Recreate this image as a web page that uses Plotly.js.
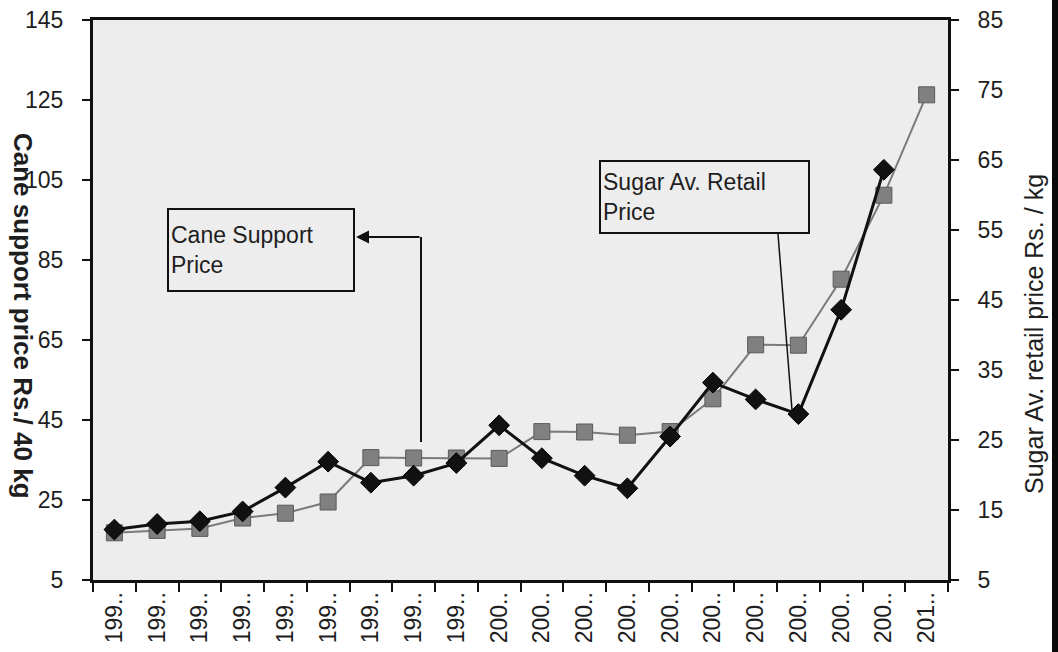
<!DOCTYPE html>
<html>
<head>
<meta charset="utf-8">
<script src="https://cdn.plot.ly/plotly-3.0.1.min.js"></script>
<style>
html,body{margin:0;padding:0;background:#fff;}
#chart{width:1058px;height:652px;}
</style>
</head>
<body>
<div id="chart"></div>
<script>
// Crop years (full names), shown truncated as in the source
const years = ['1991-92','1992-93','1993-94','1994-95','1995-96','1996-97','1997-98','1998-99','1999-00','2000-01',
               '2001-02','2002-03','2003-04','2004-05','2005-06','2006-07','2007-08','2008-09','2009-10','2010-11'];
const tickLabels = ['199..','199..','199..','199..','199..','199..','199..','199..','199..','200..',
                    '200..','200..','200..','200..','200..','200..','200..','200..','200..','201..'];
// Cane support price, Rs./40 kg (left axis)
const caneSupport = [16.8, 17.4, 17.9, 20.5, 21.7, 24.5, 35.6, 35.5, 35.5, 35.4,
                     42.1, 42.0, 41.2, 42.1, 50.3, 63.8, 63.7, 80.2, 101.2, 126.3];
// Sugar average retail price, Rs./kg (right axis)
const sugarRetail = [12.2, 13.0, 13.4, 14.8, 18.2, 21.9, 18.9, 19.9, 21.7, 27.1,
                     22.4, 19.9, 18.1, 25.5, 33.2, 30.8, 28.7, 43.6, 63.6, null];

const leftTicks = [5, 25, 45, 65, 85, 105, 125, 145];
const rightTicks = [5, 15, 25, 35, 45, 55, 65, 75, 85];

const FONT = 'Liberation Sans, Arial, Helvetica, sans-serif';
const TXT = '#1e1e1e';

const traces = [
  {
    x: years, y: caneSupport, type: 'scatter', mode: 'lines+markers', name: 'Cane Support Price',
    yaxis: 'y', cliponaxis: false,
    line: {color: '#7a7a7a', width: 2},
    marker: {symbol: 'square', size: 16, color: '#808080', line: {color: '#5a5a5a', width: 1}}
  },
  {
    x: years, y: sugarRetail, type: 'scatter', mode: 'lines+markers', name: 'Sugar Av. Retail Price',
    yaxis: 'y2', cliponaxis: false, connectgaps: false,
    line: {color: '#111', width: 3},
    marker: {symbol: 'diamond', size: 16, color: '#111', line: {color: '#000', width: 1}}
  }
];

const L = 93, R = 948, T = 20, B = 580;
const px = v => (v - L) / (R - L);
const py = v => (B - v) / (B - T);

const layout = {
  width: 1058, height: 652,
  margin: {l: L, r: 1058 - R, t: T, b: 652 - B, pad: 0},
  paper_bgcolor: '#ffffff',
  plot_bgcolor: '#ededed',
  showlegend: false,
  font: {family: FONT, color: TXT, size: 23},
  xaxis: {
    type: 'category', range: [-0.5, 19.5],
    tickvals: years, ticktext: tickLabels, tickangle: -90,
    tickson: 'boundaries', ticks: 'outside', ticklen: 9, tickwidth: 2, tickcolor: '#111',
    showline: true, linecolor: '#111', linewidth: 3, mirror: true,
    showgrid: false, zeroline: false,
    tickfont: {family: FONT, size: 23, color: TXT}
  },
  yaxis: {
    range: [5, 145], tickvals: leftTicks, ticks: 'outside', ticklen: 8, tickwidth: 2, tickcolor: '#111',
    showline: true, linecolor: '#111', linewidth: 3, showgrid: false, zeroline: false,
    ticklabelstandoff: 14,
    tickfont: {family: FONT, size: 23, color: TXT}
  },
  yaxis2: {
    range: [5, 85], tickvals: rightTicks, overlaying: 'y', side: 'right',
    ticks: 'outside', ticklen: 8, tickwidth: 2, tickcolor: '#111',
    showline: true, linecolor: '#111', linewidth: 3, showgrid: false, zeroline: false,
    ticklabelstandoff: 14,
    tickfont: {family: FONT, size: 23, color: TXT}
  },
  annotations: [
    {
      xref: 'paper', yref: 'paper', x: px(23), y: py(316), xanchor: 'center', yanchor: 'middle',
      text: '<b>Cane support price Rs./ 40 kg</b>',
      textangle: 90, showarrow: false, font: {family: FONT, size: 26, color: TXT}
    },
    {
      xref: 'paper', yref: 'paper', x: px(1034), y: py(334), xanchor: 'center', yanchor: 'middle',
      text: 'Sugar Av. retail price Rs. / kg',
      textangle: -90, showarrow: false, font: {family: FONT, size: 25, color: TXT}
    },
    {
      xref: 'paper', yref: 'paper', x: px(167), y: py(208), xanchor: 'left', yanchor: 'top',
      text: 'Cane Support<br>Price', align: 'left', valign: 'middle',
      width: 180, height: 76, showarrow: false,
      bordercolor: '#111', borderwidth: 2, borderpad: 2, bgcolor: 'rgba(0,0,0,0)',
      font: {family: FONT, size: 23, color: TXT}
    },
    {
      xref: 'paper', yref: 'paper', x: px(599), y: py(160), xanchor: 'left', yanchor: 'top',
      text: 'Sugar Av. Retail<br>Price', align: 'left', valign: 'middle',
      width: 203, height: 66, showarrow: false,
      bordercolor: '#111', borderwidth: 2, borderpad: 2, bgcolor: 'rgba(0,0,0,0)',
      font: {family: FONT, size: 23, color: TXT}
    },
    {
      xref: 'paper', yref: 'paper', x: px(356), y: py(237), text: '',
      showarrow: true, ax: 65, ay: 0, arrowhead: 2, arrowsize: 1.3, arrowwidth: 2, arrowcolor: '#111', standoff: 0
    }
  ],
  shapes: [
    {type: 'line', xref: 'paper', yref: 'paper', x0: px(421), y0: py(237), x1: px(421), y1: py(442),
     line: {color: '#111', width: 2}},
    {type: 'line', xref: 'paper', yref: 'paper', x0: px(778), y0: py(234), x1: px(792), y1: py(410),
     line: {color: '#111', width: 1.5}},
    {type: 'rect', xref: 'paper', yref: 'paper', x0: px(1052), x1: px(1062), y0: py(660), y1: py(-8),
     fillcolor: '#0a0a0a', line: {width: 0}, layer: 'above'}
  ]
};

Plotly.newPlot('chart', traces, layout, {staticPlot: true, displayModeBar: false});
</script>
</body>
</html>
